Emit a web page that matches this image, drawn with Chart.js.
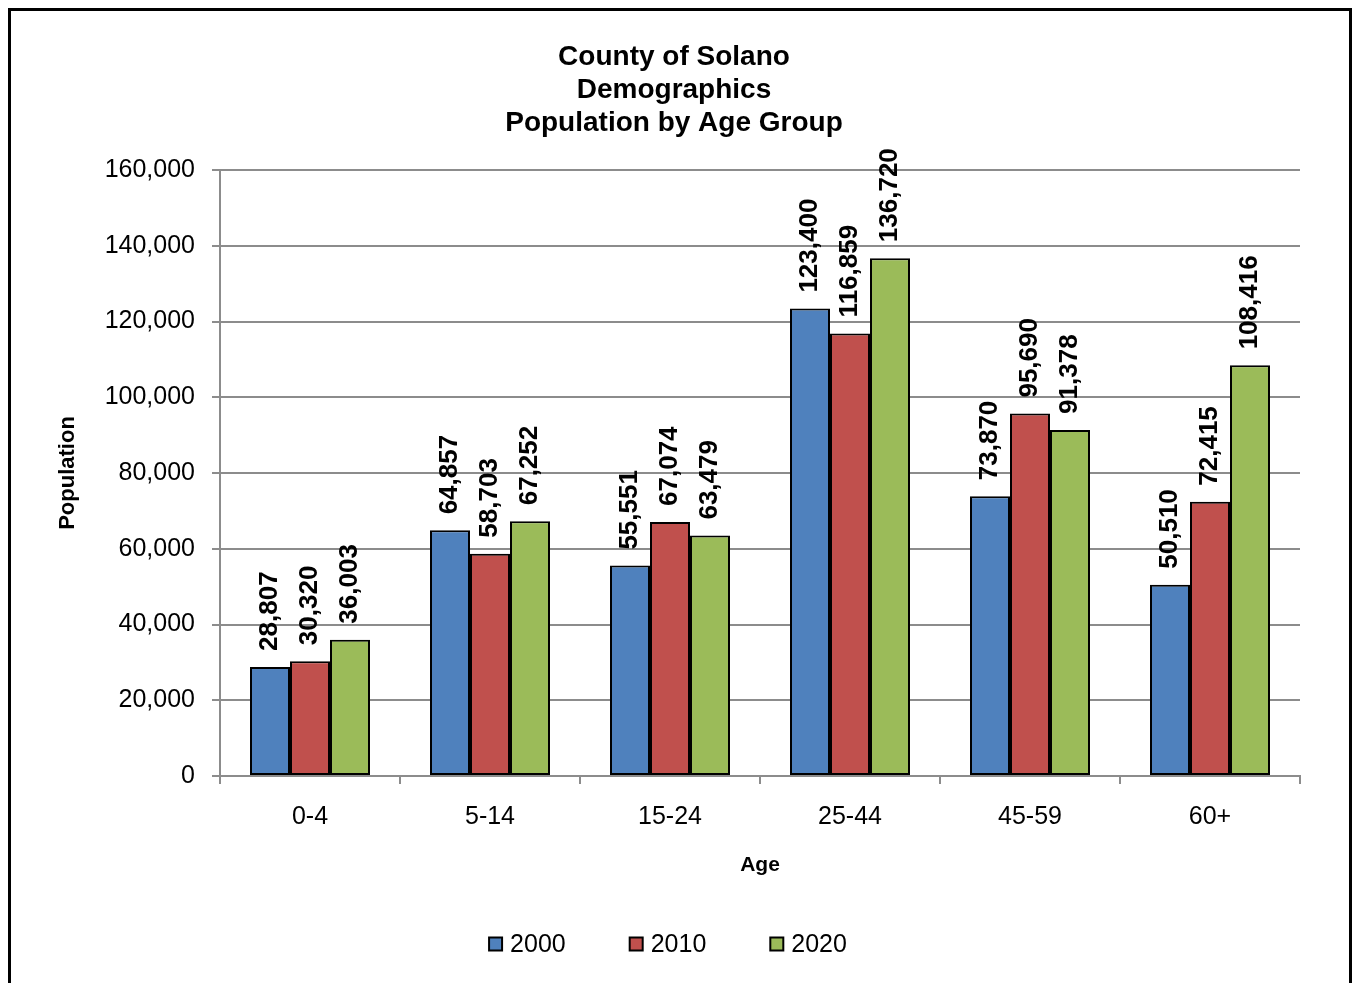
<!DOCTYPE html>
<html>
<head>
<meta charset="utf-8">
<title>County of Solano - Population by Age Group</title>
<script src="https://cdn.jsdelivr.net/npm/chart.js@4/dist/chart.umd.min.js"></script>
<style>
    html, body { margin: 0; padding: 0; background: #fff; overflow: hidden; }
    #wrap { position: relative; width: 1354px; height: 983px; }
    #frame {
        position: absolute; left: 8px; top: 8px; width: 1344px; height: 1000px;
        border: 3px solid #000; box-sizing: border-box; pointer-events: none;
    }
    canvas { position: absolute; left: 0; top: 0; }
</style>
</head>
<body>
<div id="wrap">
    <canvas id="popChart" width="1354" height="983"></canvas>
    <div id="frame"></div>
</div>
<script>
// Data
const AGE_GROUPS = ['0-4', '5-14', '15-24', '25-44', '45-59', '60+'];
const YEARS = ['2000', '2010', '2020'];
const POP_2000 = [28807, 64857, 55551, 123400, 73870, 50510];
const POP_2010 = [30320, 58703, 67074, 116859, 95690, 72415];
const POP_2020 = [36003, 67252, 63479, 136720, 91378, 108416];
const Y_MIN = 0;
const Y_MAX = 160000;
const Y_STEP = 20000;
const TITLE_LINES = ['County of Solano', 'Demographics', 'Population by Age Group'];

const COLORS = ['#4F81BD', '#C0504D', '#9BBB59'];
const GRID = '#8c8c8c';
const FONT = "Arial, 'Liberation Sans', sans-serif";

const fmt = v => Number(v).toLocaleString('en-US');

// Vertical value labels above every bar
const barLabels = {
    id: 'barLabels',
    afterDatasetsDraw(chart) {
        const ctx = chart.ctx;
        ctx.save();
        ctx.font = 'bold 26px ' + FONT;
        ctx.fillStyle = '#000';
        ctx.textAlign = 'left';
        ctx.textBaseline = 'middle';
        chart.data.datasets.forEach((ds, i) => {
            chart.getDatasetMeta(i).data.forEach((bar, j) => {
                ctx.save();
                ctx.translate(bar.x, bar.y - 16);
                ctx.rotate(-Math.PI / 2);
                ctx.fillText(fmt(ds.data[j]), 0, 0);
                ctx.restore();
            });
        });
        ctx.restore();
    }
};

// Legend drawn by hand so the spacing matches the original
const bottomLegend = {
    id: 'bottomLegend',
    afterDraw(chart) {
        const ctx = chart.ctx;
        const box = 13, gap = 7, spacing = 63, cy = 944, cx = 667.5;
        ctx.save();
        ctx.font = '25px ' + FONT;
        const items = chart.data.datasets.map(ds => ({
            text: ds.label, color: ds.backgroundColor, w: ctx.measureText(ds.label).width
        }));
        const total = items.reduce((s, it) => s + box + 2 + gap + it.w, 0) + spacing * (items.length - 1);
        let x = cx - total / 2;
        ctx.textBaseline = 'middle';
        ctx.textAlign = 'left';
        items.forEach(it => {
            ctx.fillStyle = it.color;
            ctx.fillRect(x + 1, cy - box / 2, box, box);
            ctx.strokeStyle = '#000';
            ctx.lineWidth = 2;
            ctx.strokeRect(x + 1, cy - box / 2, box, box);
            ctx.fillStyle = '#000';
            ctx.fillText(it.text, x + box + 2 + gap, cy + 1);
            x += box + 2 + gap + it.w + spacing;
        });
        ctx.restore();
    }
};

const ctx = document.getElementById('popChart');

new Chart(ctx, {
    type: 'bar',
    data: {
        labels: AGE_GROUPS,
        datasets: [POP_2000, POP_2010, POP_2020].map((values, i) => ({
            label: YEARS[i],
            data: values,
            backgroundColor: COLORS[i],
            borderColor: '#000',
            borderWidth: 2,
            borderSkipped: false,
            barPercentage: 1,
            categoryPercentage: 120 / 180
        }))
    },
    options: {
        responsive: false,
        animation: false,
        layout: {
            padding: { left: 48, right: 54, top: 0, bottom: 59 }
        },
        plugins: {
            legend: { display: false },
            tooltip: { enabled: false },
            title: {
                display: true,
                text: TITLE_LINES,
                color: '#000',
                font: { family: FONT, size: 28, weight: 'bold', lineHeight: 33 / 28 },
                padding: { top: 40.5, bottom: 30.5 }
            }
        },
        scales: {
            x: {
                grid: {
                    offset: true,
                    drawOnChartArea: false,
                    drawTicks: true,
                    tickLength: 8,
                    color: GRID,
                    lineWidth: 2
                },
                border: { color: GRID, width: 2 },
                ticks: {
                    color: '#000',
                    padding: 18,
                    font: { family: FONT, size: 25 }
                },
                title: {
                    display: true,
                    text: 'Age',
                    color: '#000',
                    font: { family: FONT, size: 21, weight: 'bold' },
                    padding: { top: 10, bottom: 46.4 }
                },
                afterFit(scale) { scale.height = 148; }
            },
            y: {
                min: Y_MIN,
                max: Y_MAX,
                grid: {
                    color: GRID,
                    lineWidth: 2,
                    tickLength: 8
                },
                border: { color: GRID, width: 2 },
                ticks: {
                    stepSize: Y_STEP,
                    color: '#000',
                    padding: 17,
                    font: { family: FONT, size: 25 },
                    callback: value => fmt(value)
                },
                title: {
                    display: true,
                    text: 'Population',
                    color: '#000',
                    font: { family: FONT, size: 22, weight: 'bold' },
                    padding: { top: 6.8, bottom: 0 }
                },
                afterFit(scale) { scale.width = 172; }
            }
        }
    },
    plugins: [barLabels, bottomLegend]
});
</script>
</body>
</html>
